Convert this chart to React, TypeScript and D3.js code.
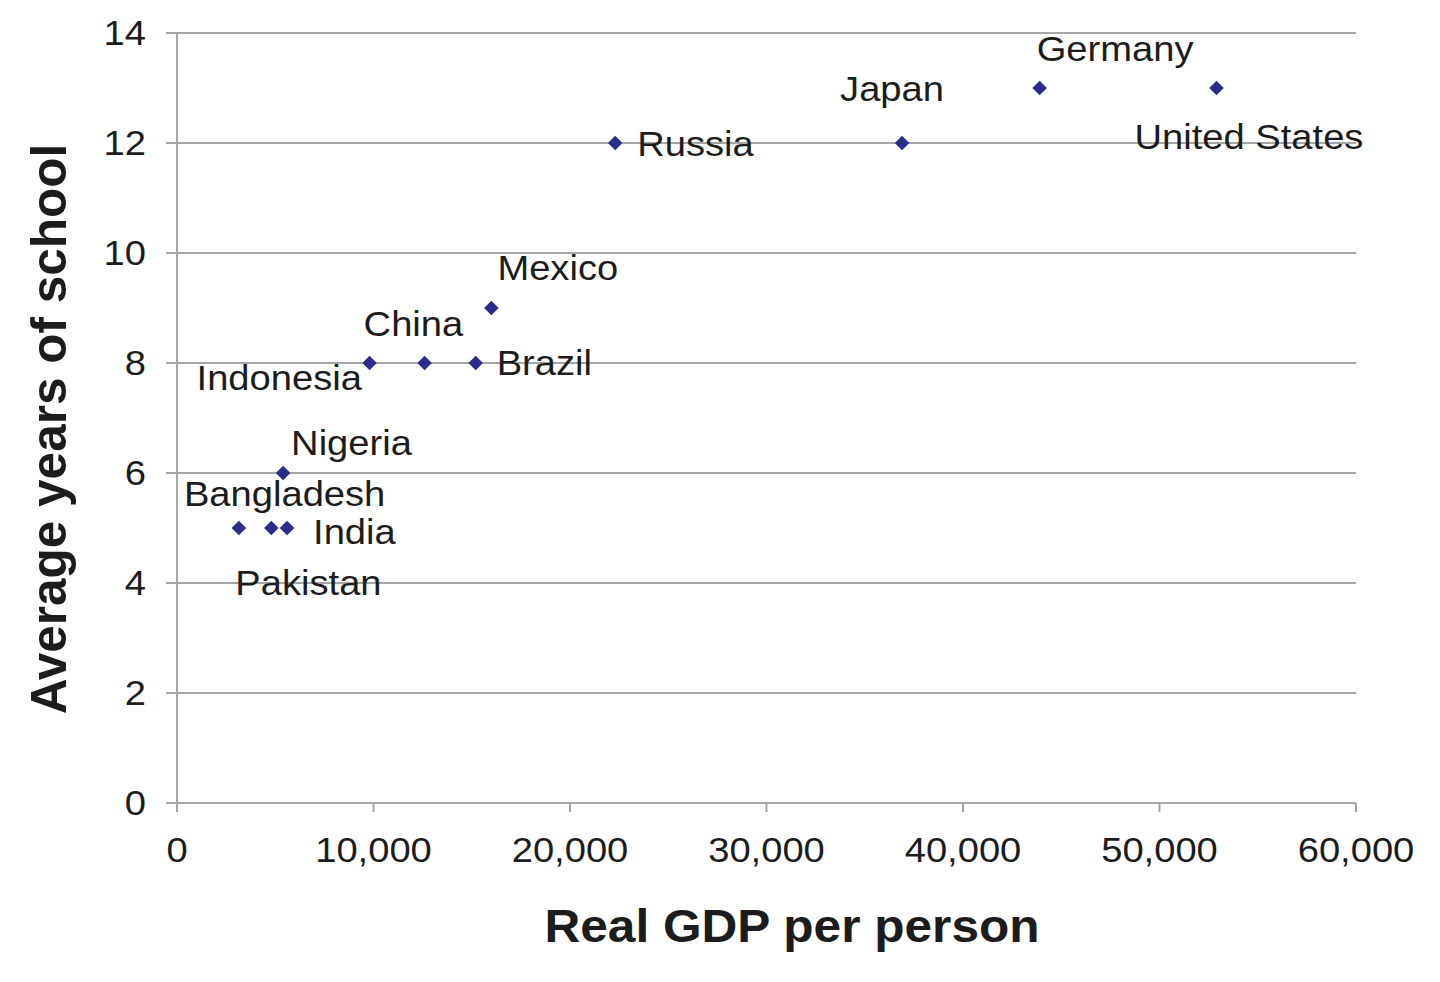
import React from "react";
import * as d3 from "d3";

const countries = ["United States", "Germany", "Japan", "Russia", "Mexico", "Brazil", "China", "Indonesia", "Nigeria", "India", "Pakistan", "Bangladesh"];
const gdpPerPerson = [52900, 43900, 36900, 22300, 16000, 15200, 12600, 9800, 5400, 5600, 4800, 3150];
const yearsOfSchool = [13, 13, 12, 12, 9, 8, 8, 8, 6, 5, 5, 5];
const xTicks = [0, 10000, 20000, 30000, 40000, 50000, 60000];
const yTicks = [0, 2, 4, 6, 8, 10, 12, 14];

// label placement relative to each point (layout, not data)
const labelOffsets: Record<string, [number, number]> = {
  "United States": [-82, 61],
  Germany: [-3, -27],
  Japan: [-62, -42],
  Russia: [22, 13],
  Mexico: [6, -28],
  Brazil: [21, 12],
  China: [-61, -27],
  Indonesia: [-173, 27],
  Nigeria: [8, -18],
  India: [26, 16],
  Pakistan: [-36, 67],
  Bangladesh: [-55, -22],
};

const W = 1440;
const H = 982;
const SX = 1.09;
const GRID = "#a6a6a6";
const TEXT = "#1c1c1c";
const FONT = "'Liberation Sans', Arial, sans-serif";

export default function App() {
  const x = d3.scaleLinear().domain([0, 60000]).range([177, 1356]);
  const y = d3.scaleLinear().domain([0, 14]).range([803, 33]);
  const fmt = d3.format(",");
  const diamond = d3.symbol(d3.symbolDiamond2, 135)() as string;

  return (
    <svg width={W} height={H} style={{ position: "absolute", left: 0, top: 0, background: "#fff" }} fontFamily={FONT}>
      <rect width={W} height={H} fill="#fff" />
      {yTicks.map((t) => (
        <line key={"g" + t} x1={166} x2={x(60000)} y1={y(t)} y2={y(t)} stroke={GRID} strokeWidth={2} />
      ))}
      <line x1={x(0)} x2={x(0)} y1={y(14)} y2={y(0) + 9} stroke={GRID} strokeWidth={2} />
      {xTicks.map((t) => (
        <line key={"xt" + t} x1={x(t)} x2={x(t)} y1={y(0)} y2={y(0) + 9} stroke={GRID} strokeWidth={2} />
      ))}
      {yTicks.map((t) => (
        <text key={"yl" + t} transform={`translate(146,${y(t) + 12}) scale(${SX},1)`} textAnchor="end" fontSize={35} fill={TEXT}>
          {t}
        </text>
      ))}
      {xTicks.map((t) => (
        <text key={"xl" + t} transform={`translate(${x(t)},862) scale(${SX},1)`} textAnchor="middle" fontSize={35} fill={TEXT}>
          {fmt(t)}
        </text>
      ))}
      {countries.map((c, i) => (
        <path key={"p" + c} d={diamond} transform={`translate(${x(gdpPerPerson[i])},${y(yearsOfSchool[i])})`} fill="#2b2d8c" />
      ))}
      {countries.map((c, i) => {
        const [dx, dy] = labelOffsets[c];
        return (
          <text key={"l" + c} transform={`translate(${x(gdpPerPerson[i]) + dx},${y(yearsOfSchool[i]) + dy}) scale(${SX},1)`} fontSize={35} fill={TEXT}>
            {c}
          </text>
        );
      })}
      <text transform={`translate(792,942) scale(${SX},1)`} textAnchor="middle" fontSize={45.5} fontWeight="bold" fill={TEXT}>
        Real GDP per person
      </text>
      <text transform={`translate(66,429) rotate(-90)`} textAnchor="middle" fontSize={49.5} fontWeight="bold" fill={TEXT}>
        Average years of school
      </text>
    </svg>
  );
}
